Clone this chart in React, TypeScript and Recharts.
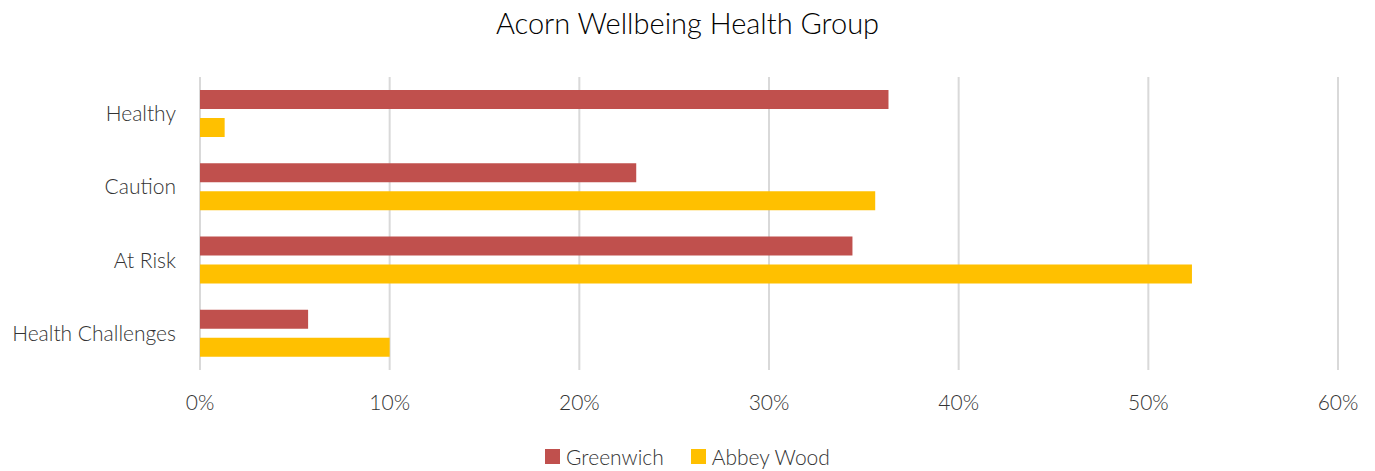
import { Bar, BarChart, CartesianGrid, XAxis, YAxis } from "recharts";

const categories = ["Healthy", "Caution", "At Risk", "Health Challenges"];
const greenwich = [0.363, 0.23, 0.344, 0.057];
const abbeyWood = [0.013, 0.356, 0.523, 0.1];
const xTicks = [0, 0.1, 0.2, 0.3, 0.4, 0.5, 0.6];

const seriesList = [
  { key: "greenwich", name: "Greenwich", color: "#C0504D" },
  { key: "abbeyWood", name: "Abbey Wood", color: "#FFC000" }
];

const data = categories.map((category, i) => ({
  category,
  greenwich: greenwich[i],
  abbeyWood: abbeyWood[i]
}));

const font = "Lato, 'Open Sans', sans-serif";

export default function App() {
  return (
    <div style={{ position: "absolute", left: 0, top: 0, width: 1375, height: 471, background: "#fff", fontFamily: font }}>
      <div style={{ position: "absolute", top: 5, left: 0, width: 1375, textAlign: "center", fontSize: 29, fontWeight: 300, color: "#000" }}>
        Acorn Wellbeing Health Group
      </div>
      <BarChart
        width={1375}
        height={471}
        data={data}
        layout="vertical"
        margin={{ top: 77, right: 37, bottom: 61, left: 0 }}
        barSize={19}
        barGap={9}
      >
        <CartesianGrid horizontal={false} stroke="#d9d9d9" strokeWidth={2} />
        <XAxis
          type="number"
          domain={[0, 0.6]}
          ticks={xTicks}
          height={40}
          tickFormatter={(value) => `${Math.round(Number(value) * 100)}%`}
          axisLine={false}
          tickLine={false}
          tickMargin={19}
          tick={{ fill: "#333", fontSize: 21, fontWeight: 300, fontFamily: font }}
        />
        <YAxis
          type="category"
          dataKey="category"
          width={200}
          axisLine={false}
          tickLine={false}
          tickMargin={18}
          tick={{ fill: "#333", fontSize: 21, fontWeight: 300, fontFamily: font }}
        />
        {seriesList.map((s) => (
          <Bar key={s.key} dataKey={s.key} name={s.name} fill={s.color} isAnimationActive={false} />
        ))}
      </BarChart>
      <div style={{ position: "absolute", top: 444, left: 0, width: 1375, display: "flex", justifyContent: "center", gap: 27, fontSize: 21, fontWeight: 300, color: "#333" }}>
        {seriesList.map((s) => (
          <div key={s.key} style={{ display: "flex", alignItems: "center", gap: 6 }}>
            <span style={{ display: "inline-block", width: 15, height: 15, background: s.color }} />
            <span>{s.name}</span>
          </div>
        ))}
      </div>
    </div>
  );
}
